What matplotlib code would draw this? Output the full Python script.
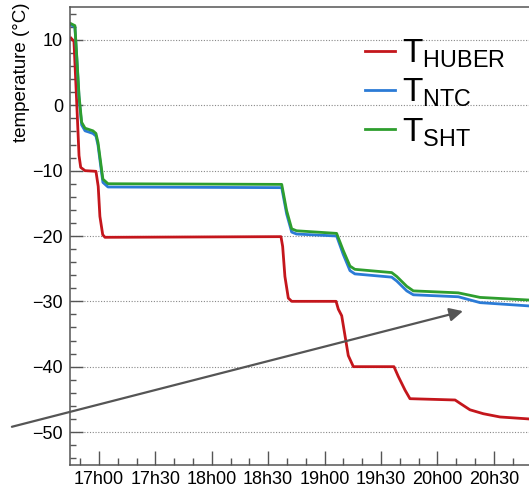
import matplotlib
matplotlib.use("Agg")
import matplotlib.pyplot as plt
from matplotlib.ticker import MultipleLocator, FixedLocator, FuncFormatter

plt.rcParams['font.family'] = ['Liberation Sans', 'DejaVu Sans']
plt.rcParams['mathtext.fontset'] = 'custom'
plt.rcParams['mathtext.rm'] = 'Liberation Sans'
plt.rcParams['mathtext.it'] = 'Liberation Sans'

# time in minutes after 17h00
huber_t = [-14.9, -13.3, -11.9, -10.6, -9.7, -7.4, -1.6, -0.4, 0.5, 2.0, 3.2,
           96.8, 97.7, 98.9, 100.7, 102.5, 126.1, 127.3, 129.1, 132.6, 135.3,
           156.9, 159.2, 162.8, 165.4, 189.4, 192.0, 197.3, 204.4, 213.3, 228.7, 240.0]
huber_v = [10.3, 9.8, 0.9, -7.7, -9.5, -10.0, -10.1, -12.4, -17.0, -19.8, -20.2,
           -20.1, -21.6, -26.2, -29.5, -30.0, -30.0, -31.2, -32.2, -38.3, -40.0,
           -40.0, -41.5, -43.6, -44.9, -45.1, -45.6, -46.6, -47.2, -47.7, -48.0, -48.0]

sensor_t = [-14.9, -12.8, -11.7, -10.6, -9.2, -7.4, -3.2, -1.6, -0.5, 0.8, 2.1, 4.8,
            97.2, 99.8, 102.5, 105.1, 126.4, 129.9, 133.5, 136.1, 155.7, 158.4,
            163.7, 167.2, 191.1, 202.7, 228.7, 240.0]
sht_v = [12.5, 12.2, 7.0, 1.5, -2.6, -3.5, -3.9, -4.3, -5.7, -8.5, -11.3, -12.0,
         -12.1, -16.1, -18.9, -19.2, -19.6, -22.2, -24.6, -25.1, -25.6, -26.2,
         -27.7, -28.4, -28.7, -29.4, -29.8, -29.9]
ntc_v = [12.3, 12.0, 6.8, 1.2, -3.0, -3.9, -4.3, -4.7, -6.1, -9.0, -11.8, -12.5,
         -12.6, -16.6, -19.4, -19.7, -20.0, -22.8, -25.3, -25.8, -26.3, -26.9,
         -28.4, -29.0, -29.3, -30.2, -30.7, -30.8]

labels = [r'$\mathrm{T}_{\mathrm{HUBER}}$', r'$\mathrm{T}_{\mathrm{NTC}}$', r'$\mathrm{T}_{\mathrm{SHT}}$']
colors = ['#c4161c', '#2b7bd6', '#2e9e2e']
xticks = [0, 30, 60, 90, 120, 150, 180, 210]
arrow_start = (-46.3, -49.2)
arrow_end = (193.6, -31.5)

W, H = 529, 488
fig = plt.figure(figsize=(W / 100, H / 100), dpi=100)
ax = fig.add_axes([70 / W, (H - 465) / H, 490 / W, 458 / H])

l1, = ax.plot(huber_t, huber_v, color=colors[0], lw=2.0, solid_joinstyle='round')
l2, = ax.plot(sensor_t, ntc_v, color=colors[1], lw=2.0, solid_joinstyle='round')
l3, = ax.plot(sensor_t, sht_v, color=colors[2], lw=2.0, solid_joinstyle='round')

ax.set_xlim(-15.4, 245.2)
ax.set_ylim(-55.05, 15.05)

ax.xaxis.set_major_locator(FixedLocator(xticks))
ax.xaxis.set_minor_locator(MultipleLocator(10))
ax.xaxis.set_major_formatter(FuncFormatter(lambda v, p: f"{17 + int(v // 60)}h{int(v % 60):02d}"))
ax.yaxis.set_major_locator(MultipleLocator(10))
ax.yaxis.set_minor_locator(MultipleLocator(2))
ax.yaxis.set_major_formatter(FuncFormatter(lambda v, p: f"{int(v)}".replace('-', '\u2212')))

spc = '#555555'
for s in ['left', 'bottom', 'top']:
    ax.spines[s].set_color(spc)
    ax.spines[s].set_linewidth(1.1)
ax.spines['right'].set_visible(False)

ax.tick_params(axis='both', which='both', direction='in', colors=spc, labelcolor='black')
ax.tick_params(axis='x', which='major', length=10, width=1.0, pad=4, labelsize=13)
ax.tick_params(axis='x', which='minor', length=5, width=1.0)
ax.tick_params(axis='y', which='major', length=9.5, width=1.0, pad=5, labelsize=13)
ax.tick_params(axis='y', which='minor', length=4.5, width=1.0)

ax.yaxis.grid(True, which='major', linestyle=(0, (1, 1.5)), color='#888888', lw=0.8)
ax.set_axisbelow(True)

ax.set_ylabel('temperature (\u00b0C)', fontsize=13.5, loc='top')
ax.yaxis.set_label_coords(-0.082, 1.01)

leg = ax.legend([l1, l2, l3], labels, loc='upper left', bbox_to_anchor=(365 / W, 1 - 38 / H),
                bbox_transform=fig.transFigure, frameon=False, fontsize=24,
                handlelength=0.9, handletextpad=0.22, labelspacing=0.2, borderpad=0,
                borderaxespad=0)

ax.annotate('', xy=arrow_end, xytext=arrow_start, annotation_clip=False,
            arrowprops=dict(arrowstyle='-|>', color='#555555', lw=1.6, mutation_scale=20,
                            shrinkA=0, shrinkB=0))

fig.savefig('out.png', dpi=100)
